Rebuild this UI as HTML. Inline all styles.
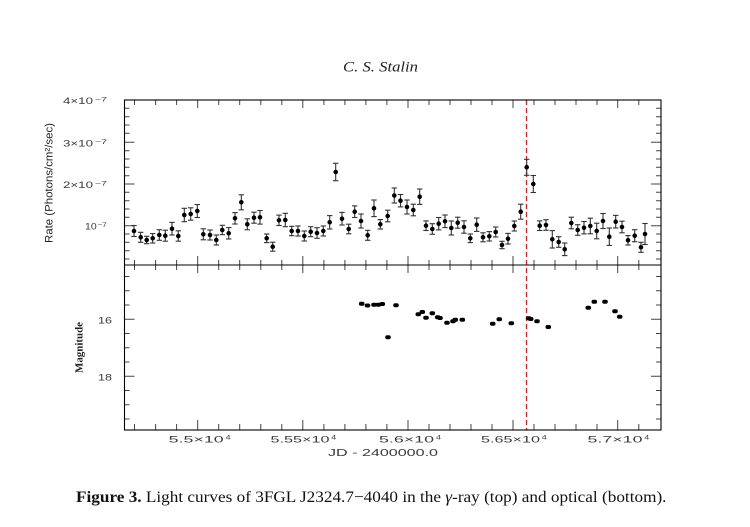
<!DOCTYPE html>
<html><head><meta charset="utf-8"><style>
html,body{margin:0;padding:0;background:#fff;}
svg{display:block;}
</style></head><body>
<svg width="750" height="527" viewBox="0 0 750 527" xmlns="http://www.w3.org/2000/svg">
<defs>
<marker id="cap" markerUnits="userSpaceOnUse" markerWidth="8" markerHeight="4" refX="3.7" refY="2" orient="0" overflow="visible">
<path d="M1 2H6.4" stroke="#333" stroke-width="1.1"/>
</marker>
</defs>
<rect width="750" height="527" fill="#fff"/>
<text x="343" y="71.5" font-family="Liberation Serif, serif" font-style="italic" font-size="15" fill="#222" textLength="75" lengthAdjust="spacingAndGlyphs">C. S. Stalin</text>

<line x1="526.5" y1="100" x2="526.5" y2="430" stroke="#c0272d" stroke-width="1.3" stroke-dasharray="5 3"/>

<g stroke="#444" stroke-width="1" fill="none">
<path d="M134.5 100v5M155.6 100v5M176.6 100v5M218.7 100v5M239.7 100v5M260.8 100v5M281.8 100v5M323.9 100v5M344.9 100v5M365.9 100v5M386.9 100v5M429 100v5M450 100v5M471 100v5M492 100v5M534 100v5M555 100v5M576 100v5M597 100v5M638.8 100v5"/>
<path d="M197.7 100v8M302.8 100v8M408 100v8M513 100v8M617.7 100v8"/>
<path d="M134.5 260v10M155.6 260v10M176.6 260v10M218.7 260v10M239.7 260v10M260.8 260v10M281.8 260v10M323.9 260v10M344.9 260v10M365.9 260v10M386.9 260v10M429 260v10M450 260v10M471 260v10M492 260v10M534 260v10M555 260v10M576 260v10M597 260v10M638.8 260v10"/>
<path d="M197.7 256v17M302.8 256v17M408 256v17M513 256v17M617.7 256v17"/>
<path d="M134.5 424v6M155.6 424v6M176.6 424v6M218.7 424v6M239.7 424v6M260.8 424v6M281.8 424v6M323.9 424v6M344.9 424v6M365.9 424v6M386.9 424v6M429 424v6M450 424v6M471 424v6M492 424v6M534 424v6M555 424v6M576 424v6M597 424v6M638.8 424v6"/>
<path d="M197.7 420v10M302.8 420v10M408 420v10M513 420v10M617.7 420v10"/>
<path d="M124.5 108.3h5m-5 8.4h5m-5 8.3h5m-5 8.3h5m-5 17.4h5m-5 8.3h5m-5 8.3h5m-5 8.4h5m-5 16.6h5m-5 8.4h5m-5 8.3h5m-5 8.3h5m-5 16.7h5m-5 8.3h5m-5 8.4h5m-5 8.3h5"/>
<path d="M124.5 142.3h10M124.5 184h10M124.5 225.7h10"/>
<path d="M656 108.3h5m-5 8.4h5m-5 8.3h5m-5 8.3h5m-5 17.4h5m-5 8.3h5m-5 8.3h5m-5 8.4h5m-5 16.6h5m-5 8.4h5m-5 8.3h5m-5 8.3h5m-5 16.7h5m-5 8.3h5m-5 8.4h5m-5 8.3h5"/>
<path d="M651 142.3h10M651 184h10M651 225.7h10"/>
<path d="M124.5 276.5h5m-5 14.3h5m-5 14.2h5m-5 28.5h5m-5 14.3h5m-5 14.2h5m-5 28.5h5m-5 14.3h5m-5 14.2h5"/>
<path d="M124.5 319.3h10M124.5 376.3h10"/>
<path d="M656 276.5h5m-5 14.3h5m-5 14.2h5m-5 28.5h5m-5 14.3h5m-5 14.2h5m-5 28.5h5m-5 14.3h5m-5 14.2h5"/>
<path d="M651 319.3h10M651 376.3h10"/>
</g>

<g stroke="#000" stroke-width="1.1" fill="none">
<rect x="124.5" y="100" width="536.5" height="330"/>
<line x1="124.5" y1="265" x2="661" y2="265"/>
</g>

<g font-family="Liberation Sans, sans-serif" fill="#3a3a3a">
<text x="63" y="104" font-size="9.5" textLength="30" lengthAdjust="spacingAndGlyphs">4×10</text>
<text x="95" y="101.5" font-size="6.5" textLength="12" lengthAdjust="spacingAndGlyphs">−7</text>
<text x="63" y="146.3" font-size="9.5" textLength="30" lengthAdjust="spacingAndGlyphs">3×10</text>
<text x="95" y="143.8" font-size="6.5" textLength="12" lengthAdjust="spacingAndGlyphs">−7</text>
<text x="63" y="188" font-size="9.5" textLength="30" lengthAdjust="spacingAndGlyphs">2×10</text>
<text x="95" y="185.5" font-size="6.5" textLength="12" lengthAdjust="spacingAndGlyphs">−7</text>
<text x="85" y="229.7" font-size="9.5" textLength="11.7" lengthAdjust="spacingAndGlyphs">10</text>
<text x="97.7" y="227.2" font-size="6.5" textLength="9" lengthAdjust="spacingAndGlyphs">−7</text>
<text x="98" y="323.5" font-size="9.5" textLength="14" lengthAdjust="spacingAndGlyphs">16</text>
<text x="98" y="380.5" font-size="9.5" textLength="14" lengthAdjust="spacingAndGlyphs">18</text>
<text x="168.7" y="442.3" font-size="9.5" textLength="55" lengthAdjust="spacingAndGlyphs">5.5×10</text>
<text x="225.7" y="439.5" font-size="6" textLength="5" lengthAdjust="spacingAndGlyphs">4</text>
<text x="270.5" y="442.3" font-size="9.5" textLength="59" lengthAdjust="spacingAndGlyphs">5.55×10</text>
<text x="331.3" y="439.5" font-size="6" textLength="5" lengthAdjust="spacingAndGlyphs">4</text>
<text x="379" y="442.3" font-size="9.5" textLength="55" lengthAdjust="spacingAndGlyphs">5.6×10</text>
<text x="436" y="439.5" font-size="6" textLength="5" lengthAdjust="spacingAndGlyphs">4</text>
<text x="481" y="442.3" font-size="9.5" textLength="59" lengthAdjust="spacingAndGlyphs">5.65×10</text>
<text x="541.8" y="439.5" font-size="6" textLength="5" lengthAdjust="spacingAndGlyphs">4</text>
<text x="587.5" y="442.3" font-size="9.5" textLength="55" lengthAdjust="spacingAndGlyphs">5.7×10</text>
<text x="644.3" y="439.5" font-size="6" textLength="5" lengthAdjust="spacingAndGlyphs">4</text>
<text x="328" y="456" font-size="10" textLength="110" lengthAdjust="spacingAndGlyphs">JD - 2400000.0</text>
<text transform="translate(52.5,183) rotate(-90)" text-anchor="middle" font-size="11" fill="#222" textLength="120" lengthAdjust="spacingAndGlyphs">Rate (Photons/cm²/sec)</text>
</g>
<text transform="translate(82.5,347.5) rotate(-90)" text-anchor="middle" font-family="Liberation Serif, serif" font-weight="bold" font-size="11" fill="#222" textLength="51" lengthAdjust="spacingAndGlyphs">Magnitude</text>

<path stroke="#333" stroke-width="1.1" fill="none" marker-start="url(#cap)" marker-mid="url(#cap)" marker-end="url(#cap)" d="M134 225.5V236.5M140.7 232.3V242.3M146.7 236.3V243.7M152.7 233.6V243M159.3 229.7V240.3M165.3 230.2V241.2M172 222.4V235M178.3 230.8V241.2M184.3 208.3V221.7M190.7 207.8V220.2M197.3 204.5V217.5M203.3 228.8V239.8M210 230V240M216.3 235V245M222.3 225.3V234.7M228.7 227.6V239M235 212.6V224M241.3 194.8V209.8M247.3 218.8V229.8M254 212.2V223.2M260 210.5V224.1M266.7 234V242.6M272.7 242.2V251.2M279 215.1V225.5M285.3 213.3V226.7M291.7 226.3V235.7M298 226V236M304.3 231V241M310.7 226.7V236.7M317 227.7V238.3M323.3 226V236M329.7 215.6V229M335.7 163.3V180.7M342 212.4V225M348.7 224.2V233.8M354.7 205.9V217.5M361 214V228M367.7 230.3V240.3M374 200V216.6M380.3 219.6V229M387.7 210.2V221.8M394.3 188V203M400.5 194.5V206.9M407 200V214M413.3 204.2V215.8M419.7 189V204.4M426 220.9V230.5M432.3 223.7V234.3M438.7 217.5V229.9M445 215V227.6M451.3 221V235M457.7 217.2V228.2M464 220.8V233.2M470.3 234V242.6M476.7 218V231.4M483 232.8V241.8M489.3 231.6V241M495.7 227V237M502 241.3V248.7M508 233.4V244M514.3 221V231M520.7 204.2V219.2M526.7 159.3V175.3M533.3 175.5V192.5M539.7 220.9V230.5M546 219.7V230.3M552.3 230.6V248M558.7 236.7V247.3M564.7 243V255.6M571.3 217.2V228.8M577.7 224.7V235.3M584 221.5V233.9M590.3 218.2V233.8M596.7 223.2V238.8M603 213.5V228.5M609.3 228V245.4M615.7 215.4V228M622 221.2V232.8M628 235.6V245M634.7 229.7V241.7M641 242.3V252.3M645 223.5V244.5"/>

<path stroke="#000" stroke-width="4.6" stroke-linecap="round" fill="none" d="M134 231h0M140.7 237.3h0M146.7 240h0M152.7 238.3h0M159.3 235h0M165.3 235.7h0M172 228.7h0M178.3 236h0M184.3 215h0M190.7 214h0M197.3 211h0M203.3 234.3h0M210 235h0M216.3 240h0M222.3 230h0M228.7 233.3h0M235 218.3h0M241.3 202.3h0M247.3 224.3h0M254 217.7h0M260 217.3h0M266.7 238.3h0M272.7 246.7h0M279 220.3h0M285.3 220h0M291.7 231h0M298 231h0M304.3 236h0M310.7 231.7h0M317 233h0M323.3 231h0M329.7 222.3h0M335.7 172h0M342 218.7h0M348.7 229h0M354.7 211.7h0M361 221h0M367.7 235.3h0M374 208.3h0M380.3 224.3h0M387.7 216h0M394.3 195.5h0M400.5 200.7h0M407 207h0M413.3 210h0M419.7 196.7h0M426 225.7h0M432.3 229h0M438.7 223.7h0M445 221.3h0M451.3 228h0M457.7 222.7h0M464 227h0M470.3 238.3h0M476.7 224.7h0M483 237.3h0M489.3 236.3h0M495.7 232h0M502 245h0M508 238.7h0M514.3 226h0M520.7 211.7h0M526.7 167.3h0M533.3 184h0M539.7 225.7h0M546 225h0M552.3 239.3h0M558.7 242h0M564.7 249.3h0M571.3 223h0M577.7 230h0M584 227.7h0M590.3 226h0M596.7 231h0M603 221h0M609.3 236.7h0M615.7 221.7h0M622 227h0M628 240.3h0M634.7 235.7h0M641 247.3h0M645 234h0"/>

<path stroke="#000" stroke-width="4" stroke-linecap="round" fill="none" d="M360.9 303.7h1.6M366.7 305.5h1.6M373.2 304.7h1.6M377.5 304.7h1.6M381.5 304h1.6M387.2 337.3h1.6M395.2 305.3h1.6M417.5 314.3h1.6M421.5 312h1.6M425.2 317.7h1.6M431.5 313.3h1.6M436.9 317.3h1.6M439.2 318h1.6M446.2 322.7h1.6M452.2 321.3h1.6M454.5 319.7h1.6M461.5 319.7h1.6M491.9 323.7h1.6M498.5 319.3h1.6M510.5 323.3h1.6M527.9 318.3h1.6M529.9 319h1.6M536.2 321.3h1.6M547.5 327h1.6M587.5 307.7h1.6M593.5 301.7h1.6M604.2 301.7h1.6M614.2 311.3h1.6M618.9 316.7h1.6"/>

<text x="76" y="502" font-family="Liberation Serif, serif" font-size="16" fill="#111" textLength="590.5" lengthAdjust="spacingAndGlyphs"><tspan font-weight="bold">Figure 3.</tspan> Light curves of 3FGL J2324.7−4040 in the <tspan font-style="italic">γ</tspan>-ray (top) and optical (bottom).</text>
</svg>
</body></html>
